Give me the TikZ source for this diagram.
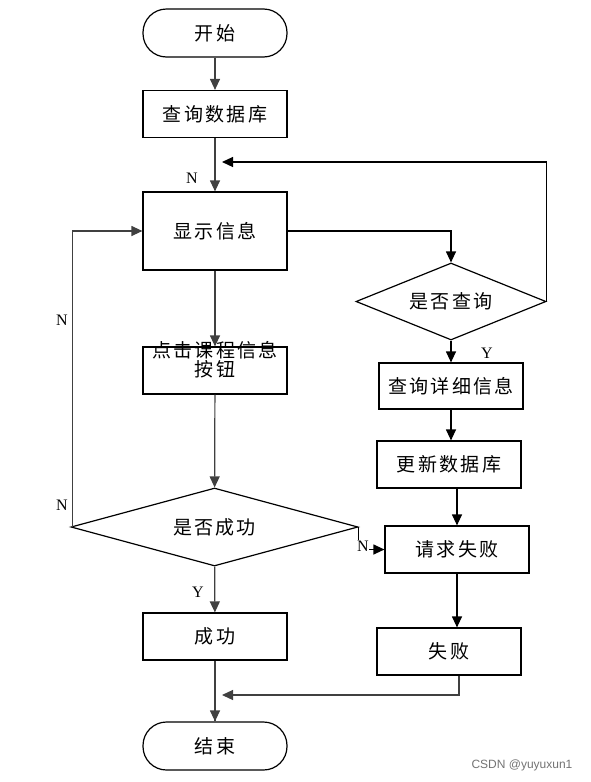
\documentclass[tikz,border=0pt]{standalone}
\usepackage{fontspec}
\setmainfont{Liberation Serif}
\newfontfamily\cjk[LetterSpace=12]{Noto Sans CJK SC}
\newfontfamily\wmfont{Liberation Sans}
\usetikzlibrary{arrows.meta,shapes.geometric}
\tikzset{
  box/.style={draw, line width=1.2pt, rectangle, minimum width=144pt, minimum height=47pt, inner sep=0pt, font=\cjk\fontsize{19}{22}\selectfont, align=center},
  term/.style={box, rounded corners=23.5pt, minimum height=48pt},
  dia/.style={draw, line width=1.2pt, diamond, inner sep=0pt, font=\cjk\fontsize{19}{22}\selectfont},
  conn/.style={line width=1.2pt, draw=black!75, -{Triangle[length=11pt,width=10pt]}},
  line/.style={line width=1.2pt, draw=black!75},
  lbl/.style={font=\fontsize{16}{18}\selectfont, inner sep=1pt}
}
\begin{document}
\begin{tikzpicture}[x=1pt,y=-1pt]
\useasboundingbox (0,0) rectangle (591,782);
\node[term] (start) at (215,33) {开始};
\node[box] (query) at (215,114) {查询数据库};
\node[box, minimum height=78pt] (show) at (215,231) {显示信息};
\node[box, text height=15pt, text depth=4pt] (click) at (215,370.5) {点击课程信息\\[-3pt]按钮};
\node[dia, aspect=3.68, minimum width=287pt, minimum height=78pt] (ok) at (214.5,527) {是否成功};
\node[box] (succ) at (215,636.5) {成功};
\node[term] (end) at (215,746) {结束};
\node[dia, aspect=2.47, minimum width=190pt, minimum height=77pt] (ask) at (451,301.5) {是否查询};
\node[box, minimum height=46pt] (detail) at (451,386) {查询详细信息};
\node[box] (update) at (449,464.5) {更新数据库};
\node[box] (fail1) at (457,549.5) {请求失败};
\node[box] (fail2) at (449,651.5) {失败};
\coordinate (fb) at (222,162);
\coordinate (jn) at (222,695);

\draw[conn] (start) -- (query);
\draw[conn] (query) -- (show);
\node[lbl] (n1) at (192,178) {N};
\draw[conn, draw=black] (ask.east) |- (fb);
\draw[conn, draw=black] (show.east) -| (ask.north);
\draw[conn] (show) -- (click);
\draw[conn] (click) -- (ok);
\draw[conn] (ok) -- (succ);
\node[lbl] (y1) at (198,592) {Y};
\draw[line] (succ) -- (end);
\draw[conn] ([yshift=-18pt]succ.south) -- (end.north);
\draw[conn] ([xshift=2pt]ok.west) |- (show.west);
\node[lbl] (n2) at (62,320) {N};
\node[lbl] (n3) at (62,505) {N};
\draw[conn, draw=black] (ask) -- (ask.south |- detail.north);
\node[lbl] (y2) at (487,353) {Y};
\draw[conn, draw=black] (detail.south) -- (detail.south |- update.north);
\draw[conn, draw=black] (fail1.north |- update.south) -- (fail1.north);
\draw[conn, draw=black] (ok.east) |- (fail1.west);
\node[lbl, fill=white, inner sep=0.5pt] (n4) at (363,546) {N};
\draw[conn, draw=black] (fail1.south) -- (fail1.south |- fail2.north);
\draw[conn] ([xshift=10pt]fail2.south) |- (jn);
\node[font=\wmfont\fontsize{12}{14}\selectfont, text=black!55] (wm) at (522,765) {CSDN @yuyuxun1};
\end{tikzpicture}
\end{document}
